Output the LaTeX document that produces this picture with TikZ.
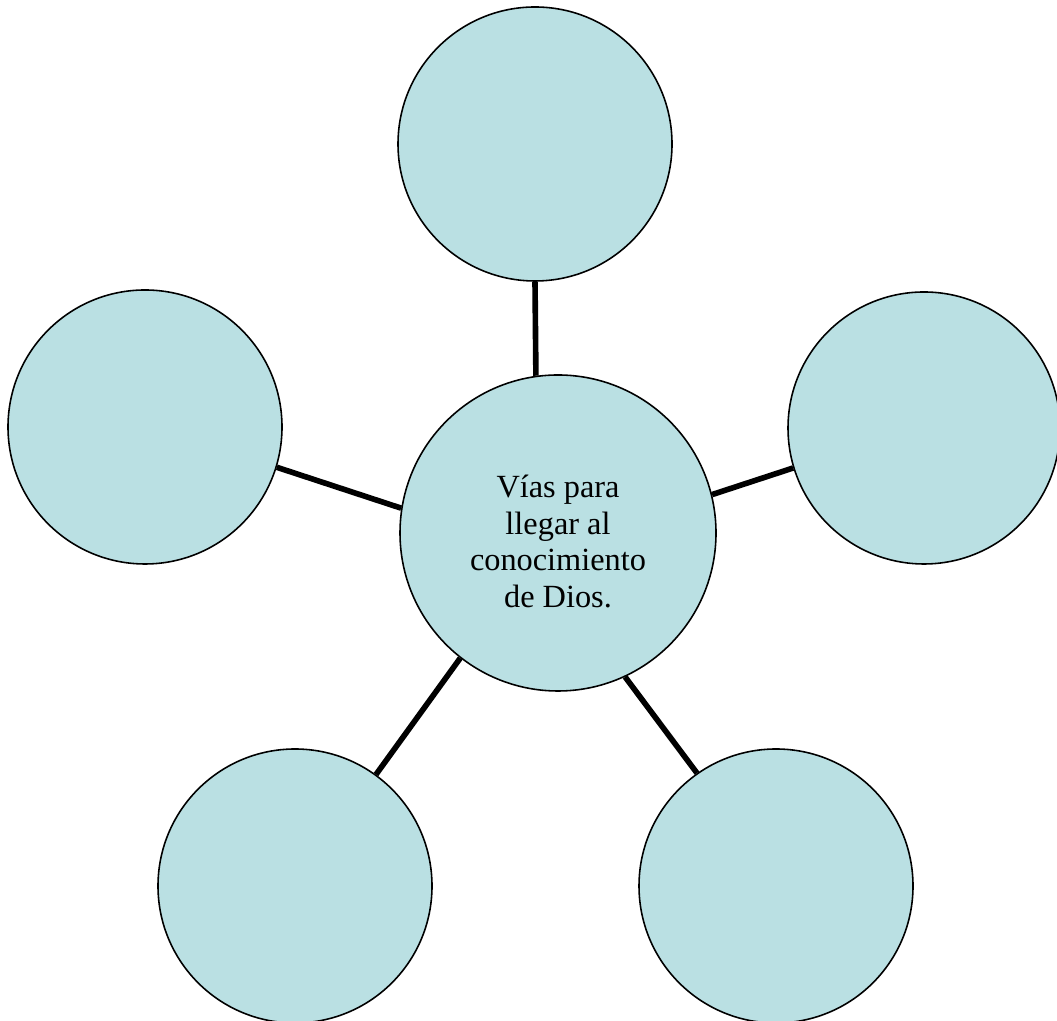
\documentclass[tikz,border=0pt]{standalone}
\usepackage{fontspec}
\setmainfont{Liberation Serif}
\usepackage{tikz}
\usetikzlibrary{positioning}
\definecolor{viafill}{RGB}{186,224,227}
\tikzstyle{via}=[circle, draw, line width=0.9pt, fill=viafill, minimum size=5.48cm, inner sep=0pt]
\tikzstyle{conn}=[line width=3.2pt]

\begin{document}
\begin{tikzpicture}
  \tikzset{
    font={\fontsize{18.4pt}{21pt}\selectfont}
  }
    \useasboundingbox (0,0) rectangle (21.14,20.42);
    \node [via, minimum size=6.32cm] (c) at (11.16,9.76) {};
    \node [align=center] (ctext) at ([yshift=-0.17cm]c.center) {Vías para\\llegar al\\conocimiento\\de Dios.};

    \node [via] (t) at (10.70,17.54) {};
    \node [via] (l) at (2.90,11.88) {};
    \node [via, minimum size=5.44cm] (r) at (18.48,11.86) {};
    \node [via] (bl) at (5.90,2.70) {};
    \node [via] (br) at (15.52,2.70) {};

    \path[conn] (t.270) edge node {} (c.98);
    \path[conn] (l.343) edge node {} (c.171.7);
    \path[conn] (r.197.5) edge node {} (c.14.4);
    \path[conn] (bl.54.9) edge node {} (c.232);
    \path[conn] (br.125.6) edge node {} (c.295);
\end{tikzpicture}
\end{document}
